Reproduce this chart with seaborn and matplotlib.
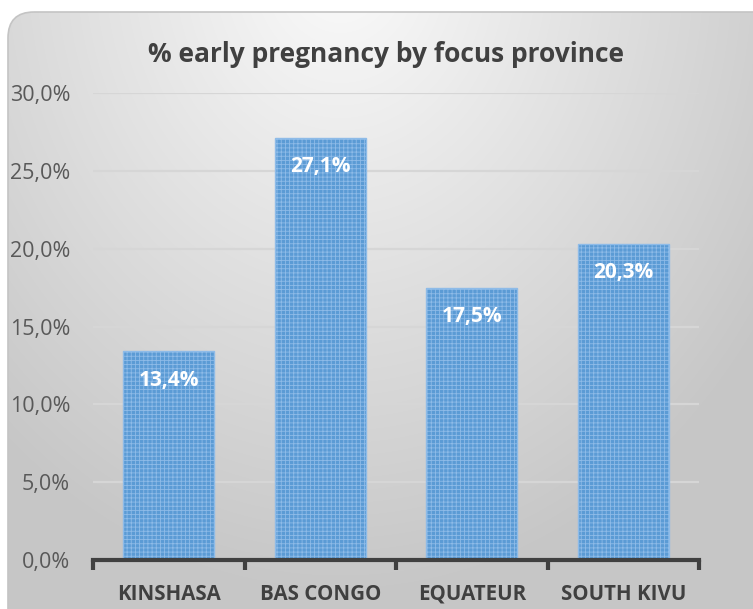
import numpy as np
import seaborn as sns
import matplotlib.pyplot as plt
from matplotlib.patches import FancyBboxPatch
from matplotlib.colors import LinearSegmentedColormap
from matplotlib.ticker import FuncFormatter

# data
provinces = ["KINSHASA", "BAS CONGO", "EQUATEUR", "SOUTH KIVU"]
early_pregnancy = [0.134, 0.271, 0.175, 0.203]
y_ticks = [0.0, 0.05, 0.10, 0.15, 0.20, 0.25, 0.30]
title = "% early pregnancy by focus province"

sns.set_theme(style="white")
plt.rcParams['font.family'] = ['Open Sans', 'DejaVu Sans']
plt.rcParams['hatch.linewidth'] = 0.6

def pct(v, pos=None):
	return f"{v*100:.1f}%".replace('.', ',')

fig = plt.figure(figsize=(7.53, 6.09), dpi=100)
fig.patch.set_facecolor('white')

# rounded panel with soft gradient (excel chart area)
bg = fig.add_axes([0, 0, 1, 1], zorder=0)
bg.set_axis_off()
bg.set_xlim(0, 753)
bg.set_ylim(609, 0)
yy, xx = np.mgrid[0:609, 0:753]
r = np.clip(np.hypot((xx - 340) / 520, (yy + 40) / 640), 0, 1)
grad = LinearSegmentedColormap.from_list('grad', ['#fbfbfb', '#c6c6c6'])
panel = FancyBboxPatch((8, 12), 780, 640, boxstyle="round,pad=0,rounding_size=26",
	facecolor='none', edgecolor='#c4c4c4', linewidth=1.2)
bg.add_patch(panel)
im = bg.imshow(r, cmap=grad, extent=(0, 753, 609, 0), aspect='auto', vmin=0, vmax=1)
im.set_clip_path(panel)

ax = fig.add_axes([93 / 753, 1 - 560 / 609, 606 / 753, 467 / 609], zorder=1)
ax.patch.set_alpha(0)

sns.barplot(x=provinces, y=early_pregnancy, ax=ax, color='#5b9bd5', saturation=1,
	width=0.6, edgecolor='#8ebbe8', linewidth=1.0, hatch='++++', zorder=2)

for i, v in enumerate(early_pregnancy):
	ax.text(i, v - 0.0185, pct(v), ha='center', va='center', color='white',
		fontsize=15, fontweight='bold', zorder=3)

ax.set_ylim(0, 0.30)
ax.set_xlim(-0.5, 3.5)
ax.set_yticks(y_ticks)
ax.yaxis.set_major_formatter(FuncFormatter(pct))
ax.yaxis.grid(True, color='#d6d6d6', linewidth=1.6)
ax.set_axisbelow(True)
for s in ['left', 'right', 'top']:
	ax.spines[s].set_visible(False)
ax.spines['bottom'].set_color('#404040')
ax.spines['bottom'].set_linewidth(3)
ax.spines['bottom'].set_zorder(4)

ax.tick_params(axis='y', length=0, pad=16.5, labelsize=15.5, labelcolor='#595959')
ax.tick_params(axis='x', which='major', bottom=False, length=0, pad=17, labelsize=14.8, labelcolor='#404040')
ax.set_xticks([-0.5, 0.5, 1.5, 2.5, 3.5], minor=True)
ax.tick_params(axis='x', which='minor', bottom=True, length=7, width=3, color='#404040', direction='out')
for lbl in ax.get_xticklabels():
	lbl.set_fontweight('bold')
ax.set_xlabel('')
ax.set_ylabel('')

fig.text(386 / 753, 1 - 55 / 609, title, ha='center', va='center', fontsize=19,
	fontweight='bold', color='#404040')

plt.savefig('out.png', dpi=100)
